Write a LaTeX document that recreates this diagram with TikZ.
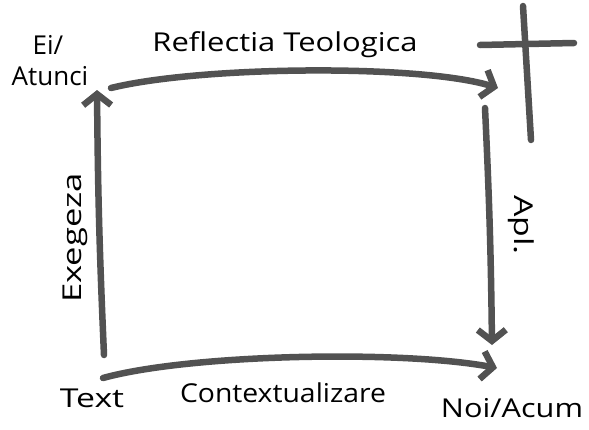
\documentclass[tikz,border=0pt]{standalone}
\usepackage{fontspec}
\setmainfont{Open Sans}
\usetikzlibrary{arrows.meta,calc}
\tikzset{
  stroke/.style={draw=black!68, line width=6.5pt, line cap=round, line join=round},
  flow/.style={stroke, -{Straight Barb[length=11pt,width=28pt]}},
  lbl/.style={font=\fontsize{26}{30}\selectfont, inner sep=0pt}
}
\begin{document}
\begin{tikzpicture}[x=1pt,y=-1pt]
\useasboundingbox (0,0) rectangle (589,429);
\coordinate (TL) at (97,90); \coordinate (TR) at (498,88); \coordinate (BR) at (492,345); \coordinate (BL) at (104,355);
\coordinate (TLs) at (111,88); \coordinate (TRs) at (485,108); \coordinate (BLs) at (103,378); \coordinate (BRe) at (497,368);
\draw[flow] (BL) to[bend left=1] (TL);
\draw[flow] (TLs) .. controls (200,66) and (420,64) .. (TR);
\draw[flow] (TRs) to[bend left=1] (BR);
\draw[flow] (BLs) .. controls (190,354) and (400,350) .. (BRe);
% cross
\coordinate (CL) at (480,45); \coordinate (CR) at (574,43); \coordinate (CT) at (523,6); \coordinate (CB) at (531,140);
\draw[stroke] (CL)--(CR); \draw[stroke] (CT)--(CB);
% labels
\node[lbl] (ei) at (48,45) {Ei/};
\node[lbl] (atunci) at (50,76) {Atunci};
\node[lbl,xscale=1.19] (refl) at (285,45) {Reflectia Teologica};
\node[lbl,rotate=-90,xscale=1.3] (apl) at (521,225) {Apl.};
\node[lbl,rotate=90,xscale=1.33] (exeg) at (75,238) {Exegeza};
\node[lbl,xscale=1.3] (text) at (92,398) {Text};
\node[lbl,xscale=1.09] (context) at (283,393) {Contextualizare};
\node[lbl,xscale=1.18] (noi) at (512,408) {Noi/Acum};
\end{tikzpicture}
\end{document}
